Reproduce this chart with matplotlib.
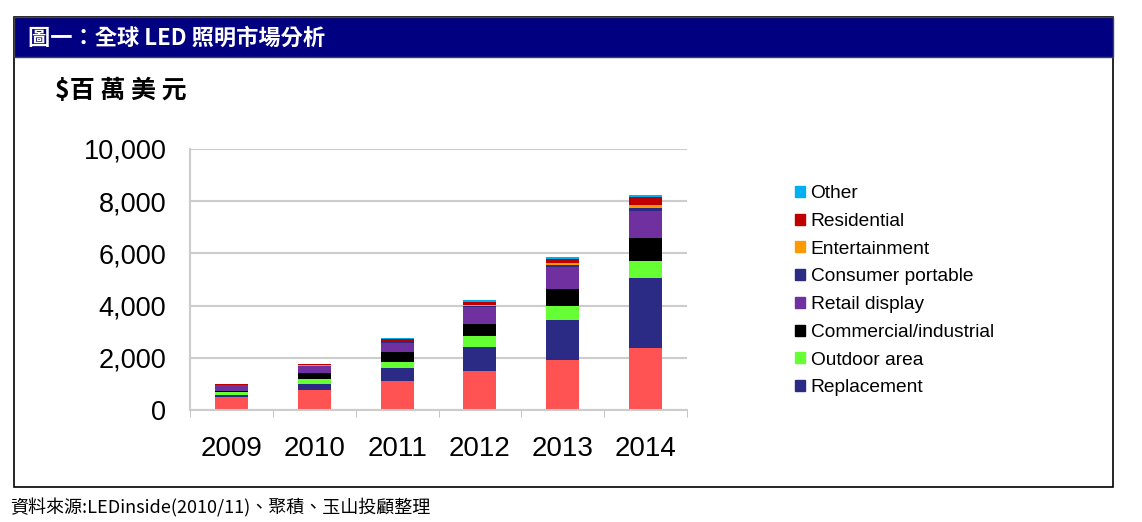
import numpy as np
import matplotlib
matplotlib.use("Agg")
import matplotlib.pyplot as plt
from matplotlib.patches import Rectangle, Patch

plt.rcParams['font.family'] = ['Liberation Sans', 'Noto Sans CJK TC', 'DejaVu Sans']

years = ['2009', '2010', '2011', '2012', '2013', '2014']
# stack order from the bottom up; bottom segment has no legend entry in the source
series = ['_base', 'Replacement', 'Outdoor area', 'Commercial/industrial', 'Retail display',
          'Consumer portable', 'Entertainment', 'Residential', 'Other']
base = [490, 780, 1115, 1490, 1900, 2390]
replacement = [100, 220, 510, 920, 1550, 2670]
outdoor = [90, 190, 230, 440, 550, 640]
commercial = [60, 220, 350, 460, 640, 890]
retail = [200, 270, 370, 630, 820, 1020]
consumer = [20, 20, 60, 40, 100, 140]
entertainment = [10, 20, 20, 60, 60, 100]
residential = [20, 40, 50, 100, 180, 300]
other = [20, 20, 50, 60, 80, 80]
values = [base, replacement, outdoor, commercial, retail, consumer, entertainment, residential, other]
colors = ['#FF5252', '#2B2A85', '#66FF33', '#000000', '#7030A0', '#2B2A85', '#FF9900', '#C00000', '#00B0F0']

W, H = 1142, 522
fig = plt.figure(figsize=(W / 100, H / 100), dpi=100)

# frame and header bar
fig.patches.append(Rectangle((14 / W, 1 - 487 / H), (1113 - 14) / W, (487 - 17) / H,
                             transform=fig.transFigure, fill=False, ec='black', lw=1.2))
fig.patches.append(Rectangle((14 / W, 1 - 57 / H), (1113 - 14) / W, 40 / H,
                             transform=fig.transFigure, fc='#000080', ec='#444444', lw=1))
fig.text(28 / W, 1 - 38 / H, '圖一：全球 LED 照明市場分析', color='white', fontsize=16,
         fontweight='bold', va='center', family=['Noto Sans CJK TC', 'DejaVu Sans'])
fig.text(55 / W, 1 - 91 / H, '$百 萬 美 元', color='black', fontsize=18,
         fontweight='bold', va='center', family=['Noto Sans CJK TC', 'DejaVu Sans'])
fig.text(10 / W, 1 - 508 / H, '資料來源:LEDinside(2010/11)、聚積、玉山投顧整理', color='black',
         fontsize=13, va='center', family=['Noto Sans CJK TC', 'DejaVu Sans'])

ax = fig.add_axes([190 / W, 1 - 410 / H, (687 - 190) / W, (410 - 149) / H])
x = np.arange(len(years))
bottom = np.zeros(len(years))
for name, vals, c in zip(series, values, colors):
    ax.bar(x, vals, 0.4, bottom=bottom, color=c, label=name)
    bottom += np.array(vals)

ax.set_xlim(-0.5, len(years) - 0.5)
ax.set_ylim(0, 10000)
ax.set_yticks(range(0, 10001, 2000))
ax.set_yticklabels([f'{v:,}' for v in range(0, 10001, 2000)], fontsize=19.5)
ax.set_xticks(x)
ax.set_xticklabels(years, fontsize=20)
ax.tick_params(axis='x', length=0, pad=19)
ax.tick_params(axis='y', length=0, pad=17)
ax.set_xticks(np.arange(-0.5, len(years)), minor=True)
ax.tick_params(axis='x', which='minor', length=5, color='#BBBBBB')
ax.yaxis.grid(True, color='#CCCCCC', lw=1.5)
ax.set_axisbelow(True)
for s in ['top', 'right']:
    ax.spines[s].set_visible(False)
ax.spines['left'].set_color('#CCCCCC')
ax.spines['bottom'].set_color('#CCCCCC')
ax.spines['left'].set_linewidth(1.5)
ax.spines['bottom'].set_linewidth(1.5)

handles = [Patch(color=c, label=n) for n, c in zip(series[1:], colors[1:])][::-1]
fig.legend(handles=handles, loc='upper left', bbox_to_anchor=(778 / W, 1 - 168 / H),
           frameon=False, fontsize=13.8, handlelength=0.5, handleheight=0.5,
           handletextpad=0.3, labelspacing=0.56)

fig.savefig('out.png', dpi=100)
